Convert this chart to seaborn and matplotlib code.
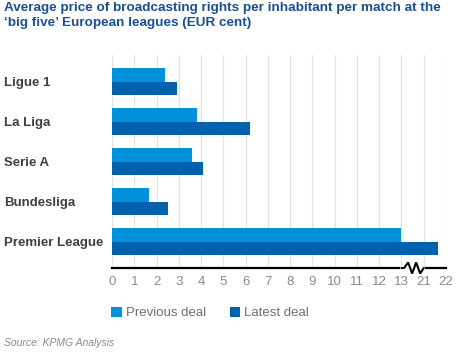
import numpy as np
import pandas as pd
import matplotlib
matplotlib.use("Agg")
import matplotlib.pyplot as plt
import matplotlib.transforms as mtransforms
from matplotlib.patches import Patch
import seaborn as sns

# ---- data ----
leagues = ["Ligue 1", "La Liga", "Serie A", "Bundesliga", "Premier League"]
previous_deal = [2.4, 3.8, 3.6, 1.65, 13.0]
latest_deal = [2.9, 6.2, 4.1, 2.5, 21.65]
series_names = ["Previous deal", "Latest deal"]
tick_labels = ["0", "1", "2", "3", "4", "5", "6", "7", "8", "9", "10", "11", "12", "13", "21", "22"]
break_low, break_high = 13, 20  # axis is broken between 13 and 21

colors = ["#0091DA", "#0061AE"]

def to_axis(v):
    # broken axis: values above the break are shifted left by the gap
    return v if v <= break_low else v - (break_high - break_low)

df = pd.DataFrame({
    "league": leagues * 2,
    "deal": [series_names[0]] * len(leagues) + [series_names[1]] * len(leagues),
    "value": previous_deal + latest_deal,
})
df["pos"] = df["value"].apply(to_axis)

sns.set_theme(style="white")
plt.rcParams["font.family"] = ["Liberation Sans", "DejaVu Sans"]

W, H = 461, 355
fig = plt.figure(figsize=(W / 100, H / 100), dpi=100)
ax = fig.add_axes([112 / W, 1 - 268 / H, (446 - 112) / W, (268 - 55) / H])

sns.barplot(data=df, y="league", x="pos", hue="deal", order=leagues,
            hue_order=series_names, palette=colors, orient="h",
            width=0.667, saturation=1, ax=ax, legend=False, zorder=3,
            linewidth=0, edgecolor="none")

ax.set_xlim(0, 15)
ax.set_ylim(4.66, -0.667)
ax.set_xticks(range(16))
ax.set_xticklabels(tick_labels)
ax.grid(axis="x", color="#e3e3e3", linewidth=0.9, zorder=0)
ax.grid(axis="y", visible=False)
ax.set_xlabel("")
ax.set_ylabel("")
for s in ["top", "right", "left"]:
    ax.spines[s].set_visible(False)
ax.spines["bottom"].set_color("black")
ax.spines["bottom"].set_linewidth(1.6)
ax.spines["bottom"].set_zorder(5)
ax.tick_params(axis="x", length=0, pad=6, labelsize=9.5, labelcolor="#8a8a8a")
ax.tick_params(axis="y", length=0, pad=(112 - 4) * 0.72, labelsize=9.5)
for lab in ax.get_yticklabels():
    lab.set_horizontalalignment("left")
    lab.set_fontweight("bold")
    lab.set_color("#404040")

# axis break zigzag
trans = mtransforms.blended_transform_factory(ax.transData, ax.transAxes)
ax.plot([13.02, 13.98], [0, 0], transform=trans, color="white", lw=3, zorder=6, clip_on=False)
ax.plot([13.0, 13.12, 13.3, 13.48, 13.66, 13.84, 14.0],
        [0, 0, 0.026, -0.026, 0.026, -0.026, 0.0],
        transform=trans, color="black", lw=1.5, zorder=7, clip_on=False,
        solid_joinstyle="miter")

# title
fig.text(4 / W, 1 - 2 / H,
         "Average price of broadcasting rights per inhabitant per match at the\n\u2018big five\u2019 European leagues (EUR cent)",
         ha="left", va="top", fontsize=9.7, fontweight="bold", color="#1b4f92", linespacing=1.3)

# legend
handles = [Patch(facecolor=c, edgecolor="none") for c in colors]
fig.legend(handles, series_names, loc="center", bbox_to_anchor=(210 / W, 1 - 313 / H),
           ncol=2, frameon=False, fontsize=9.5, labelcolor="#707070",
           handlelength=0.8, handleheight=0.8, handletextpad=0.3, columnspacing=1.8)

# source
fig.text(4 / W, 1 - 343 / H, "Source: KPMG Analysis", ha="left", va="center",
         fontsize=7.5, style="italic", color="#8a8a8a")

fig.savefig("out.png", dpi=100)
